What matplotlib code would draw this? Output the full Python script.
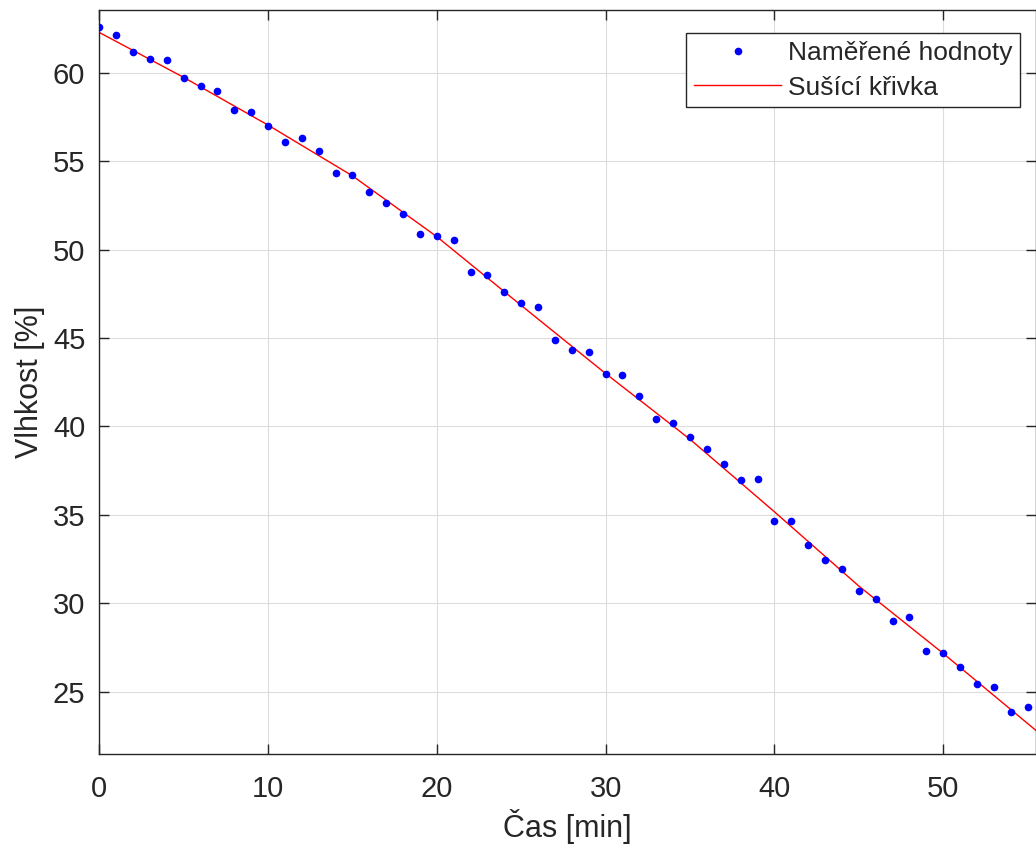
import numpy as np
import matplotlib
matplotlib.use("Agg")
from matplotlib import pyplot as plt

time_min = list(range(0, 56))
moisture = [62.57, 62.12, 61.15, 60.76, 60.70, 59.72, 59.23, 58.95, 57.91, 57.78,
            56.99, 56.10, 56.32, 55.59, 54.31, 54.23, 53.27, 52.63, 52.01, 50.88,
            50.77, 50.52, 48.75, 48.56, 47.60, 46.99, 46.75, 44.88, 44.33, 44.22,
            42.98, 42.90, 41.70, 40.41, 40.17, 39.42, 38.70, 37.85, 36.96, 37.02,
            34.64, 34.64, 33.27, 32.45, 31.93, 30.67, 30.21, 28.99, 29.21, 27.31,
            27.18, 26.39, 25.41, 25.28, 23.86, 24.13]

# drying curve
curve_t = [0, 5, 10, 15, 20, 25, 30, 35, 40, 45, 50, 55.5]
curve_y = [62.28, 59.74, 57.04, 54.17, 50.73, 46.84, 42.99, 39.27, 35.17, 30.97, 27.16, 22.80]

plt.rcParams['font.family'] = ['Liberation Sans', 'DejaVu Sans']
textColor = '#262626'

fig = plt.figure(figsize=(10.36, 8.47), dpi=100)
ax = fig.add_axes([0.0958, 0.1094, 1.0 - 0.0958, 0.8788])

ax.plot(time_min, moisture, '.', color='blue', markersize=9, label='Naměřené hodnoty', zorder=3)
ax.plot(curve_t, curve_y, '-', color='red', linewidth=1.0, label='Sušící křivka', zorder=2)

ax.set_xlim(0, 55.5)
ax.set_ylim(21.45, 63.55)
ax.set_xticks([0, 10, 20, 30, 40, 50])
ax.set_yticks([25, 30, 35, 40, 45, 50, 55, 60])

ax.grid(True, color='#dcdcdc', linewidth=0.8)
ax.set_axisbelow(True)
for s in ax.spines.values():
    s.set_color(textColor)
    s.set_linewidth(1.0)
ax.tick_params(direction='in', top=True, right=True, length=7, width=1.0,
               colors=textColor, labelsize=21)
ax.tick_params(axis='x', pad=15)
ax.tick_params(axis='y', pad=10)

ax.set_xlabel('Čas [min]', fontsize=22, color=textColor, labelpad=4)
ax.set_ylabel('Vlhkost [%]', fontsize=22, color=textColor, labelpad=6)

leg = ax.legend(loc='upper right', fontsize=19, numpoints=1, handlelength=3.3,
                fancybox=False, framealpha=1, edgecolor=textColor,
                borderaxespad=0, handletextpad=0.25, labelspacing=0.4,
                borderpad=0.3, bbox_to_anchor=(0.983, 0.969))
leg.get_frame().set_linewidth(1.0)
for t in leg.get_texts():
    t.set_color(textColor)

fig.savefig('out.png', dpi=100)
